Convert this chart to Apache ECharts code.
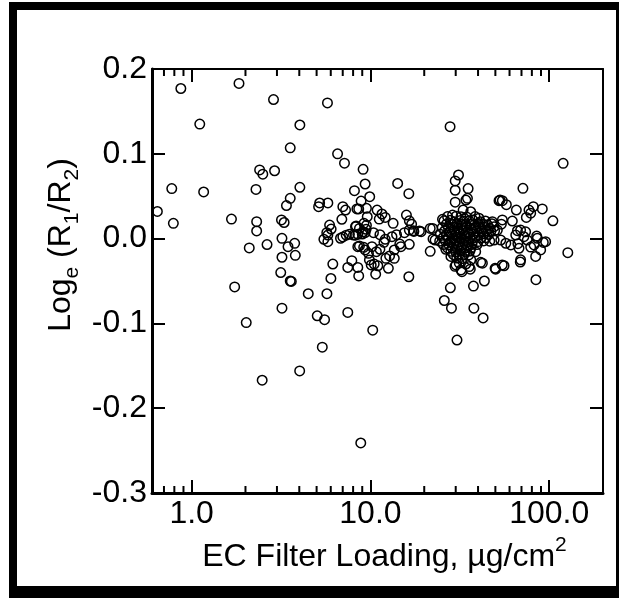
<!DOCTYPE html>
<html><head><meta charset="utf-8">
<script src="https://cdn.jsdelivr.net/npm/echarts@6/dist/echarts.min.js"></script>
<style>html,body{margin:0;padding:0;background:#fff;}#c{width:619px;height:598px;}</style>
</head><body><div id="c"></div>
<script>
const xRange = [0.6, 200];
const yRange = [-0.3, 0.2];
const yTickStep = 0.1;
const xMajorTicks = [1, 10, 100];
const xMajorLabels = ['1.0', '10.0', '100.0'];
const xMinorTicks = [0.7, 0.8, 0.9, 2, 3, 4, 5, 6, 7, 8, 9, 20, 30, 40, 50, 60, 70, 80, 90];
const xTitle = 'EC Filter Loading, µg/cm';
const xTitleSup = '2';

// EC loading (µg/cm²) vs log_e(R1/R2)
const scatterPoints = [
  [0.643,0.032],[0.774,0.059],[0.79,0.018],[0.87,0.177],[1.11,0.135],[1.167,0.055],
  [1.67,0.023],[1.74,-0.057],[1.84,0.183],[2.02,-0.099],[2.10,-0.011],
  [2.29,0.058],[2.31,0.020],[2.31,0.009],[2.40,0.081],[2.50,0.076],[2.48,-0.167],[2.64,-0.007],
  [2.87,0.164],[2.91,0.080],
  [3.18,0.022],[3.29,0.019],[3.20,0.0003],[3.46,-0.0095],[3.77,-0.0056],[3.80,-0.0197],[3.20,-0.022],
  [3.15,-0.040],[3.20,-0.082],[3.56,-0.050],[3.61,-0.0505],
  [3.39,0.039],[3.56,0.0475],[3.56,0.107],[4.03,0.134],[4.03,0.0605],[4.02,-0.156],[4.49,-0.065],
  [5.04,-0.091],[5.54,-0.0956],[5.38,-0.128],[5.71,-0.065],[5.75,0.160],
  [5.13,0.0377],[5.20,0.042],[5.78,0.042],[5.91,0.016],[6.03,0.0113],[5.78,0.0042],[5.49,-0.0008],
  [5.78,-0.0036],[5.70,0.007],
  [6.01,-0.047],[6.16,-0.030],[6.55,0.100],[6.80,0.0004],[6.92,0.0228],[7.01,0.0377],[7.01,0.002],
  [7.16,0.089],[7.26,0.0337],[7.32,0.004],[7.47,-0.034],[7.47,-0.087],[7.63,0.0051],[7.87,-0.026],
  [8.04,0.0042],[8.14,0.0565],[8.25,0.004],[8.25,0.014],[8.32,0.0149],[8.40,0.035],[8.50,-0.0095],
  [8.50,0.0051],[8.50,-0.034],[8.60,-0.044],[8.60,0.035],[8.68,0.012],[8.68,-0.0087],[8.83,-0.241],
  [8.87,0.0443],
  [9.00,0.0054],[9.06,0.008],[9.10,0.0817],[9.17,-0.0103],[9.20,0.018],[9.34,0.0644],[9.34,0.007],
  [9.34,-0.0134],[9.46,0.011],[9.50,0.0357],[9.50,0.0157],[9.60,0.0258],[9.75,-0.0174],[9.87,-0.0252],
  [9.91,0.0494],
  [10.1,-0.031],[10.2,-0.0095],[10.3,-0.108],[10.4,0.007],[10.5,-0.030],[10.7,-0.042],[10.8,-0.0154],
  [10.9,0.0337],[11.0,-0.032],[11.2,0.023],[11.3,0.0046],[11.3,-0.0126],[11.6,0.029],[11.9,-0.0044],
  [12.1,0.025],[12.1,-0.0008],[12.2,-0.0233],[12.6,-0.035],[12.8,-0.0205],[13.2,0.0022],[13.4,0.018],
  [13.6,-0.0134],[13.6,-0.0233],[14.0,0.0046],[14.2,0.065],[14.6,-0.0064],[14.8,-0.0095],[15.5,0.007],
  [15.9,0.0278],[16.4,0.053],[16.4,-0.045],[16.5,0.021],[16.5,0.010],[16.5,-0.0067],[17.0,0.017],
  [17.4,0.0093],[17.5,0.0085],[18.8,0.009],
  [19.2,0.0082],[21.6,0.012],[21.6,-0.015],[22.3,0.012],[22.4,-0.0004],[23.0,-0.0017],
  [25.3,0.0228],[25.9,-0.073],[27.9,0.132],[28.0,-0.058],[28.4,-0.082],[28.8,0.0278],[29.8,0.068],
  [29.8,0.057],[29.8,0.043],[30.5,-0.1196],[31.1,0.075],[32.1,0.0258],[33.0,0.0337],[34.2,0.0455],
  [34.9,0.0475],[35.2,0.059],[36.4,0.0317],[37.7,-0.056],[37.9,-0.082],[40.5,0.024],[42.7,-0.0936],
  [43.4,-0.050],[48.1,0.020],
  [26.4,-0.0126],[28.2,-0.021],[29.7,-0.0327],[30.1,-0.031],[31.4,-0.029],[32.1,-0.037],[32.5,-0.039],
  [34.2,-0.030],[35.7,-0.033],[36.2,-0.036],[36.4,-0.025],[41.4,-0.028],[42.3,-0.029],[49.8,-0.035],
  [50.2,-0.036],[54.6,-0.031],[55.9,-0.032],[68.9,-0.0276],
  [52.4,0.0447],[53.1,0.0455],[54.7,0.0447],[57.6,0.040],[62.2,0.0207],[54.7,0.022],[54.0,0.017],
  [65.5,0.0337],[71.3,0.0593],[74.5,0.025],[77.1,0.0337],[78.8,0.030],[81.5,0.0377],[84.3,-0.0485],
  [91.5,0.035],[104.9,0.021],[119.7,0.0888],[127.1,-0.0166],
  [66.4,0.0093],[69.2,0.010],[73.8,0.008],[65.0,0.0042],[72.2,0.0022],[75.4,-0.0017],[85.1,0.003],
  [85.8,0.0004],[95.5,-0.0036],[89.6,-0.0134],[84.0,-0.021],[78.8,-0.010],[82.3,-0.0075],[49.2,0.014],
  [51.3,0.010],[49.2,-0.0017],[53.6,-0.0017],[57.2,-0.0055],[61.0,-0.0075],[67.8,-0.0114],[69.2,-0.025],
  [66.8,-0.006],[92.7,-0.0045],
  // dense cluster around 25-50
  [27.0,0.026],[30.2,0.0265],[34.5,0.0255],[38.5,0.026],
  [25.8,0.021],[28.0,0.0215],[29.5,0.020],[31.8,0.0212],[33.2,0.0205],[35.6,0.021],[37.4,0.0218],[41.2,0.020],[44.0,0.0208],
  [26.6,0.017],[28.7,0.0165],[30.5,0.0175],[32.4,0.017],[34.0,0.0168],[36.0,0.0172],[38.2,0.0165],[40.0,0.0178],[42.6,0.017],[45.2,0.0162],[47.8,0.0175],
  [25.2,0.013],[27.3,0.0128],[29.0,0.0135],[30.8,0.0125],[32.6,0.013],[34.4,0.0138],[36.3,0.0126],[38.8,0.0132],[41.0,0.0128],[43.5,0.0134],[46.4,0.0122],
  [26.0,0.009],[27.8,0.0085],[29.6,0.0095],[31.3,0.0088],[33.0,0.0092],[35.0,0.0085],[37.0,0.0095],[39.4,0.009],[42.0,0.0087],[44.6,0.0094],[47.2,0.0088],[49.5,0.0092],
  [24.6,0.005],[26.6,0.0045],[28.4,0.0055],[30.0,0.0048],[31.8,0.0052],[33.6,0.0046],[35.5,0.0054],[37.8,0.005],[40.4,0.0044],[43.0,0.0056],[45.8,0.0048],
  [25.5,0.001],[27.2,0.0015],[29.0,0.0008],[30.6,0.0012],[32.2,0.0006],[34.0,0.0014],[36.0,0.0009],[38.3,0.0012],[41.5,0.0006],[44.2,0.0011],
  [24.4,-0.003],[26.2,-0.0025],[28.0,-0.0034],[29.8,-0.0028],[31.5,-0.0032],[33.3,-0.0026],[35.2,-0.0031],[37.3,-0.0029],[40.0,-0.0035],[43.0,-0.0027],[46.5,-0.003],
  [25.6,-0.007],[27.5,-0.0075],[29.3,-0.0066],[31.0,-0.0072],[32.8,-0.0068],[34.8,-0.0074],[37.0,-0.0069],[39.5,-0.0071],
  [27.0,-0.011],[28.8,-0.0115],[30.4,-0.0106],[32.3,-0.0112],[34.4,-0.0108],[36.5,-0.0114],
  [28.2,-0.015],[30.0,-0.0155],[31.8,-0.0146],[33.8,-0.0152],[36.0,-0.0148],[38.8,-0.0154],
  [29.2,-0.019],[31.2,-0.0195],[33.5,-0.0186],[35.5,-0.0192],
  [30.4,-0.023],[32.8,-0.0235]
];

const FONT = '"Liberation Sans", Arial, sans-serif';
const chart = echarts.init(document.getElementById('c'), null, {renderer: 'canvas'});

function xLabel(v) {
  for (let i = 0; i < xMajorTicks.length; i++) {
    if (Math.abs(v - xMajorTicks[i]) < 1e-6 * xMajorTicks[i]) return xMajorLabels[i];
  }
  return '';
}

const baseX = {
  type: 'log', logBase: 10, min: xRange[0], max: xRange[1],
  splitLine: {show: false},
  axisTick: {inside: true, length: 13, lineStyle: {color: '#000', width: 2}},
  minorTick: {show: false}
};
const baseY = {
  type: 'value', min: yRange[0], max: yRange[1], interval: yTickStep,
  splitLine: {show: false},
  axisTick: {inside: true, length: 13, lineStyle: {color: '#000', width: 2}}
};

chart.setOption({
  animation: false,
  backgroundColor: '#fff',
  grid: {left: 152, top: 69, width: 451, height: 424, containLabel: false},
  xAxis: [
    Object.assign({}, baseX, {
      position: 'bottom',
      axisLine: {onZero: false, lineStyle: {color: '#000', width: 3}},
      axisLabel: {formatter: xLabel, fontSize: 32, color: '#000', fontFamily: FONT, margin: 5,
                  showMinLabel: false, showMaxLabel: false},
      name: '{m|' + xTitle + '}{s|' + xTitleSup + '}',
      nameLocation: 'middle', nameGap: 42,
      nameTextStyle: {
        padding: [0, 0, 0, 14],
        rich: {
          m: {fontSize: 32, fontFamily: FONT, color: '#000', lineHeight: 38, verticalAlign: 'bottom'},
          s: {fontSize: 21, fontFamily: FONT, color: '#000', lineHeight: 20, verticalAlign: 'top'}
        }
      }
    }),
    Object.assign({}, baseX, {
      position: 'top',
      axisLine: {onZero: false, lineStyle: {color: '#000', width: 2}},
      axisLabel: {show: false}
    })
  ],
  yAxis: [
    Object.assign({}, baseY, {
      position: 'left',
      axisLine: {onZero: false, lineStyle: {color: '#000', width: 3}},
      axisLabel: {formatter: v => v.toFixed(1), fontSize: 32, color: '#000', fontFamily: FONT, margin: 5}
    }),
    Object.assign({}, baseY, {
      position: 'right',
      axisLine: {onZero: false, lineStyle: {color: '#000', width: 2}},
      axisLabel: {show: false}
    })
  ],
  graphic: [
    {type: 'rect', shape: {x: 9, y: 2, width: 8, height: 596}, style: {fill: '#000'}, silent: true},
    {type: 'rect', shape: {x: 9, y: 2, width: 610, height: 8}, style: {fill: '#000'}, silent: true},
    {type: 'rect', shape: {x: 9, y: 586, width: 610, height: 12}, style: {fill: '#000'}, silent: true},
    {type: 'rect', shape: {x: 616, y: 2, width: 3, height: 596}, style: {fill: '#000'}, silent: true},
    {
      type: 'text', x: 64, y: 245, rotation: Math.PI / 2, silent: true,
      style: {
        text: '{m|Log}{s|e}{m| (R}{s|1}{m|/R}{s|2}{m|)}',
        align: 'center', verticalAlign: 'middle',
        rich: {
          m: {fontSize: 32, fontFamily: FONT, fill: '#000', lineHeight: 38, verticalAlign: 'top'},
          s: {fontSize: 21, fontFamily: FONT, fill: '#000', lineHeight: 20, verticalAlign: 'bottom'}
        }
      }
    }
  ],
  series: [
    {
      type: 'scatter', xAxisIndex: 0, yAxisIndex: 0,
      data: scatterPoints,
      symbol: 'circle', symbolSize: 9.5,
      itemStyle: {color: 'rgba(0,0,0,0)', borderColor: '#000', borderWidth: 1.5, opacity: 1},
      emphasis: {disabled: true}, silent: true
    },
    {
      type: 'custom', xAxisIndex: 0, yAxisIndex: 0, silent: true, clip: false,
      data: xMinorTicks.map(v => [v, yRange[0]]),
      encode: {x: 0, y: 1},
      renderItem: function (params, api) {
        const v = api.value(0);
        const b = api.coord([v, yRange[0]]);
        const t = api.coord([v, yRange[1]]);
        const st = {stroke: '#000', lineWidth: 2};
        return {
          type: 'group',
          children: [
            {type: 'line', shape: {x1: b[0], y1: b[1], x2: b[0], y2: b[1] - 7}, style: st},
            {type: 'line', shape: {x1: t[0], y1: t[1], x2: t[0], y2: t[1] + 7}, style: st}
          ]
        };
      }
    }
  ]
});
</script>
</body></html>
